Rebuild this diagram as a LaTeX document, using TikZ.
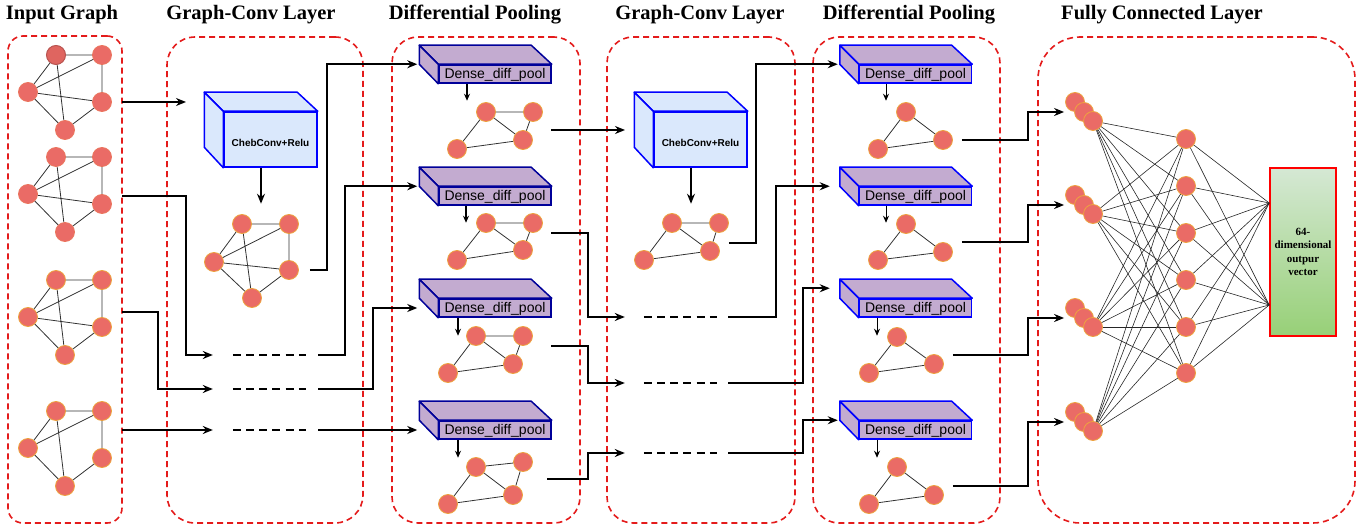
\documentclass[tikz,border=0pt]{standalone}
\usepackage{fontspec}
\setmainfont{Liberation Serif}
\setsansfont{Liberation Sans}
\usetikzlibrary{arrows.meta}

\definecolor{nodered}{HTML}{EA6B66}
\definecolor{noderim}{HTML}{EDA33F}
\definecolor{nodedark}{HTML}{DF6560}
\definecolor{rimdark}{HTML}{B85450}
\definecolor{boxred}{HTML}{E41B1B}
\definecolor{cubeblue}{HTML}{DAE8FC}
\definecolor{poolpurple}{HTML}{C3ABD0}
\definecolor{poolnavy}{HTML}{000099}
\definecolor{edgegray}{HTML}{333333}
\definecolor{outtop}{HTML}{D5E8D4}
\definecolor{outbot}{HTML}{97D077}

\tikzset{
  title/.style={anchor=base, font=\bfseries\fontsize{20.5}{24}\selectfont},
  group/.style={draw=boxred, line width=1.6pt, dash pattern=on 6pt off 4pt, rounded corners=#1},
  gnode/.style={circle, fill=nodered, draw=noderim, line width=0.8pt, minimum size=19pt, inner sep=0pt},
  inode/.style={gnode, draw=nodered!80!noderim},
  topnode/.style={gnode, fill=nodedark, draw=rimdark, line width=1pt},
  gedge/.style={draw=edgegray, line width=0.8pt},
  fcedge/.style={draw=black!85, line width=0.6pt},
  conn/.style={line width=1.6pt, -{Stealth[length=10pt,width=8pt]}},
  tinyarr/.style={line width=#1, -{Stealth[length=7pt,width=6pt]}},
  phold/.style={minimum height=4pt, inner sep=0pt},
  dashline/.style={line width=1.3pt, dash pattern=on 8pt off 5.2pt},
  cube/.style={fill=cubeblue, draw=blue, line width=1.5pt, minimum width=93pt, minimum height=55pt, inner sep=0pt, text height=14pt, text depth=0pt, font=\sffamily\bfseries\fontsize{10}{12}\selectfont},
  cubeside/.style={fill=cubeblue, draw=blue, line width=1.5pt, line join=round},
  pool/.style={fill=poolpurple, draw=#1, line width=1.5pt, minimum width=112pt, minimum height=18pt, inner sep=0pt, text height=10pt, text depth=0pt, font=\sffamily\fontsize{14}{16}\selectfont},
  poolside/.style={fill=poolpurple, draw=#1, line width=1.5pt, line join=round},
  outbox/.style={draw=red, line width=1.6pt, top color=outtop, bottom color=outbot, minimum width=66pt, minimum height=168pt, inner sep=0pt, align=center, font=\bfseries\fontsize{11}{13.3}\selectfont}
}

\begin{document}
\begin{tikzpicture}[x=1pt, y=-1pt]
\useasboundingbox (0,0) rectangle (1369,529);

% column titles
\node[title] (t1) at (62,20) {Input Graph};
\node[title] (t2) at (251,20) {Graph-Conv Layer};
\node[title] (t3) at (475,20) {Differential Pooling};
\node[title] (t4) at (700,20) {Graph-Conv Layer};
\node[title] (t5) at (909,20) {Differential Pooling};
\node[title] (t6) at (1162,20) {Fully Connected Layer};

% dashed frames
\node[group=15pt, minimum width=114pt, minimum height=487pt] (bin) at (65,279.5) {};
\node[group=28pt, minimum width=196pt, minimum height=486pt] (bgc1) at (265,280) {};
\node[group=26pt, minimum width=188pt, minimum height=486pt] (bdp1) at (486,280) {};
\node[group=26pt, minimum width=188pt, minimum height=486pt] (bgc2) at (701,280) {};
\node[group=26pt, minimum width=187pt, minimum height=486pt] (bdp2) at (906.5,280) {};
\node[group=42pt, minimum width=317pt, minimum height=486pt] (bfc) at (1196.5,280) {};

% input graphs
\foreach \n/\dy/\sa/\st in {1/0/topnode/inode, 2/102/inode/inode, 3/225/gnode/gnode, 4/356/gnode/gnode} {
  \node[\sa] (i\n-a) at (56,55+\dy) {};
  \node[\st] (i\n-b) at (102,55+\dy) {};
  \node[\st] (i\n-c) at (28,92+\dy) {};
  \node[\st] (i\n-d) at (102,102+\dy) {};
  \node[\st] (i\n-e) at (65,130+\dy) {};
  \draw[gedge] (i\n-a) -- (i\n-b) (i\n-a) -- (i\n-c) (i\n-a) -- (i\n-e) (i\n-c) -- (i\n-b)
    (i\n-c) -- (i\n-e) (i\n-b) -- (i\n-d) (i\n-d) -- (i\n-e);
}
\foreach \n in {1,2,3} \draw[gedge] (i\n-c) -- (i\n-d);

% graph-conv layer 1
\node[cube] (cc1) at (270.5,139.5) {ChebConv+Relu};
\filldraw[cubeside] (cc1.north west) -- ++(-19,-19) -- ++(93,0) -- (cc1.north east) -- cycle;
\filldraw[cubeside] (cc1.north west) -- ++(-19,-19) -- ++(0,55) -- (cc1.south west) -- cycle;
\draw[conn] ([xshift=-9.5pt]cc1.south) -- ++(0,36);
\node[gnode] (c1-a) at (242,224) {};
\node[gnode] (c1-b) at (289,224) {};
\node[gnode] (c1-c) at (214,262) {};
\node[gnode] (c1-d) at (289,270) {};
\node[gnode] (c1-e) at (252,298) {};
\draw[gedge] (c1-a) -- (c1-b) (c1-a) -- (c1-c) (c1-a) -- (c1-e) (c1-c) -- (c1-b)
  (c1-c) -- (c1-d) (c1-c) -- (c1-e) (c1-b) -- (c1-d) (c1-d) -- (c1-e);
\node[phold, minimum width=105pt] (ph1) at (265.5,355) {};
\node[phold, minimum width=105pt] (ph2) at (265.5,389) {};
\node[phold, minimum width=105pt] (ph3) at (265.5,430) {};
\foreach \p in {1,2,3} \draw[dashline] ([xshift=20pt]ph\p.west) -- ([xshift=-12pt]ph\p.east);

% differential pooling 1
\node[pool=poolnavy] (p1) at (495,74) {Dense\_diff\_pool};
\node[pool=poolnavy] (p2) at (495,196) {Dense\_diff\_pool};
\node[pool=poolnavy] (p3) at (495,308) {Dense\_diff\_pool};
\node[pool=poolnavy] (p4) at (495,430) {Dense\_diff\_pool};
\foreach \p in {1,...,4} {
  \filldraw[poolside=poolnavy] (p\p.north west) -- ++(-19,-19) -- ++(112,0) -- (p\p.north east) -- cycle;
  \filldraw[poolside=poolnavy] (p\p.north west) -- ++(-19,-19) -- ++(0,19) -- (p\p.south west) -- cycle;
}
\draw[tinyarr=1.1pt] ([xshift=-28pt]p1.south) -- ++(0,17);
\draw[tinyarr=1.1pt] ([xshift=-29pt]p2.south) -- ++(0,17);
\draw[tinyarr=1.1pt] ([xshift=-37pt]p3.south) -- ++(0,18);
\draw[tinyarr=1.1pt] ([xshift=-37pt]p4.south) -- ++(0,18);
\node[gnode] (d1-a) at (486,112) {};
\node[gnode] (d1-b) at (533,112) {};
\node[gnode] (d1-c) at (457,149) {};
\node[gnode] (d1-d) at (523,140) {};
\node[gnode] (d2-a) at (486,223) {};
\node[gnode] (d2-b) at (533,223) {};
\node[gnode] (d2-c) at (457,260) {};
\node[gnode] (d2-d) at (523,250) {};
\node[gnode] (d3-a) at (476,336) {};
\node[gnode] (d3-b) at (523,336) {};
\node[gnode] (d3-c) at (448,373) {};
\node[gnode] (d3-d) at (513,364) {};
\node[gnode] (d4-a) at (476,467) {};
\node[gnode] (d4-b) at (523,462) {};
\node[gnode] (d4-c) at (448,504) {};
\node[gnode] (d4-d) at (513,495) {};
\foreach \g in {1,...,4}
  \draw[gedge] (d\g-a) -- (d\g-b) (d\g-a) -- (d\g-c) (d\g-a) -- (d\g-d) (d\g-b) -- (d\g-d) (d\g-c) -- (d\g-d);

% graph-conv layer 2
\node[cube] (cc2) at (700.5,139.5) {ChebConv+Relu};
\filldraw[cubeside] (cc2.north west) -- ++(-19,-19) -- ++(93,0) -- (cc2.north east) -- cycle;
\filldraw[cubeside] (cc2.north west) -- ++(-19,-19) -- ++(0,55) -- (cc2.south west) -- cycle;
\draw[conn] ([xshift=-9.5pt]cc2.south) -- ++(0,36);
\node[gnode] (c2-a) at (672,223) {};
\node[gnode] (c2-b) at (719,223) {};
\node[gnode] (c2-c) at (644,260) {};
\node[gnode] (c2-d) at (710,251) {};
\draw[gedge] (c2-a) -- (c2-b) (c2-a) -- (c2-c) (c2-a) -- (c2-d) (c2-b) -- (c2-d) (c2-c) -- (c2-d);
\node[phold, minimum width=103pt] (ph4) at (676.5,317) {};
\node[phold, minimum width=103pt] (ph5) at (676.5,383) {};
\node[phold, minimum width=103pt] (ph6) at (676.5,453) {};
\foreach \p in {4,5,6} \draw[dashline] ([xshift=19pt]ph\p.west) -- ([xshift=-11pt]ph\p.east);

% differential pooling 2
\node[pool=blue] (q1) at (915.5,74) {Dense\_diff\_pool};
\node[pool=blue] (q2) at (915.5,196) {Dense\_diff\_pool};
\node[pool=blue] (q3) at (915.5,308) {Dense\_diff\_pool};
\node[pool=blue] (q4) at (915.5,430) {Dense\_diff\_pool};
\foreach \p in {1,...,4} {
  \filldraw[poolside=blue] (q\p.north west) -- ++(-19,-19) -- ++(112,0) -- (q\p.north east) -- cycle;
  \filldraw[poolside=blue] (q\p.north west) -- ++(-19,-19) -- ++(0,19) -- (q\p.south west) -- cycle;
}
\draw[tinyarr=0.8pt] ([xshift=-29.5pt]q1.south) -- ++(0,17);
\draw[tinyarr=0.8pt] ([xshift=-29.5pt]q2.south) -- ++(0,17);
\draw[tinyarr=0.8pt] ([xshift=-38.5pt]q3.south) -- ++(0,18);
\draw[tinyarr=0.8pt] ([xshift=-38.5pt]q4.south) -- ++(0,18);
\node[gnode] (s1-a) at (906,112) {};
\node[gnode] (s1-b) at (878,149) {};
\node[gnode] (s1-c) at (943,140) {};
\node[gnode] (s2-a) at (906,224) {};
\node[gnode] (s2-b) at (878,260) {};
\node[gnode] (s2-c) at (943,252) {};
\node[gnode] (s3-a) at (897,337) {};
\node[gnode] (s3-b) at (869,373) {};
\node[gnode] (s3-c) at (934,364) {};
\node[gnode] (s4-a) at (897,467) {};
\node[gnode] (s4-b) at (869,504) {};
\node[gnode] (s4-c) at (934,495) {};
\foreach \g in {1,...,4}
  \draw[gedge] (s\g-a) -- (s\g-b) (s\g-a) -- (s\g-c) (s\g-b) -- (s\g-c);

% fully connected layer
\foreach \g/\y in {1/102, 2/195, 3/308, 4/412} {
  \node[gnode] (f\g-a) at (1075,\y) {};
  \node[gnode] (f\g-b) at (1084,\y+10) {};
  \node[gnode] (f\g-c) at (1093,\y+19) {};
}
\foreach \h/\y in {1/139, 2/186, 3/233, 4/280, 5/327, 6/373}
  \node[gnode] (h\h) at (1186,\y) {};
\node[outbox] (out) at (1303,252) {64-\\dimensional\\outpur\\vector};
\coordinate (oup) at ([yshift=49pt]out.west);
\coordinate (olo) at ([yshift=-53pt]out.west);
\foreach \g in {1,...,4}
  \foreach \h in {1,...,6}
    \draw[fcedge] (f\g-c) -- (h\h);
\foreach \h in {1,...,6}
  \draw[fcedge] (h\h) -- (oup) (h\h) -- (olo);

% input -> graph-conv 1
\coordinate (i1o) at (122,102);
\coordinate (i2o) at (122,196);
\coordinate (i3o) at (122,312);
\coordinate (i4o) at (122,430);
\coordinate (cc1in) at (186,102);
\draw[conn] (i1o) -- (cc1in);
\draw[conn] (i2o) -- ++(64,0) |- (ph1.west);
\draw[conn] (i3o) -- ++(36,0) |- (ph2.west);
\draw[conn] (i4o) -- (ph3.west);

% graph-conv 1 -> pooling 1
\draw[conn] ([xshift=11pt]c1-d.east) -- ++(17,0) |- ([xshift=-21pt]p1.north west);
\draw[conn] (ph1.east) -- ++(27,0) |- ([xshift=-21pt]p2.north west);
\draw[conn] (ph2.east) -- ++(55,0) |- ([xshift=-21pt]p3.west);
\draw[conn] (ph3.east) -- ([xshift=-21pt]p4.west);

% pooling 1 -> graph-conv 2
\coordinate (d1o) at (551,130);
\coordinate (d2o) at (551,233);
\coordinate (d3o) at (551,346);
\coordinate (d4o) at (547,479);
\coordinate (cc2in) at (625,130);
\draw[conn] (d1o) -- (cc2in);
\draw[conn] (d2o) -- ++(37,0) |- (ph4.west);
\draw[conn] (d3o) -- ++(37,0) |- (ph5.west);
\draw[conn] (d4o) -- ++(41,0) |- (ph6.west);

% graph-conv 2 -> pooling 2
\draw[conn] ([xshift=9pt,yshift=8pt]c2-d.east) -- ++(27,0) |- ([xshift=-21pt]q1.north west);
\draw[conn] (ph4.east) -- ++(48,0) |- ([xshift=-29pt]q2.north west);
\draw[conn] (ph5.east) -- ++(75,0) |- ([xshift=-29pt,yshift=10pt]q3.north west);
\draw[conn] (ph6.east) -- ++(75,0) |- ([xshift=-21pt]q4.north west);

% pooling 2 -> fully connected
\draw[conn] ([xshift=9pt]s1-c.east) -- ++(66,0) |- ([xshift=-10pt]f1-b.west);
\draw[conn] ([xshift=9pt,yshift=10pt]s2-c.east) -- ++(66,0) |- ([xshift=-10pt]f2-b.west);
\draw[conn] ([xshift=9pt,yshift=9pt]s3-c.east) -- ++(75,0) |- ([xshift=-10pt]f3-b.west);
\draw[conn] ([xshift=9pt,yshift=9pt]s4-c.east) -- ++(75,0) |- ([xshift=-10pt]f4-b.west);
\end{tikzpicture}
\end{document}
